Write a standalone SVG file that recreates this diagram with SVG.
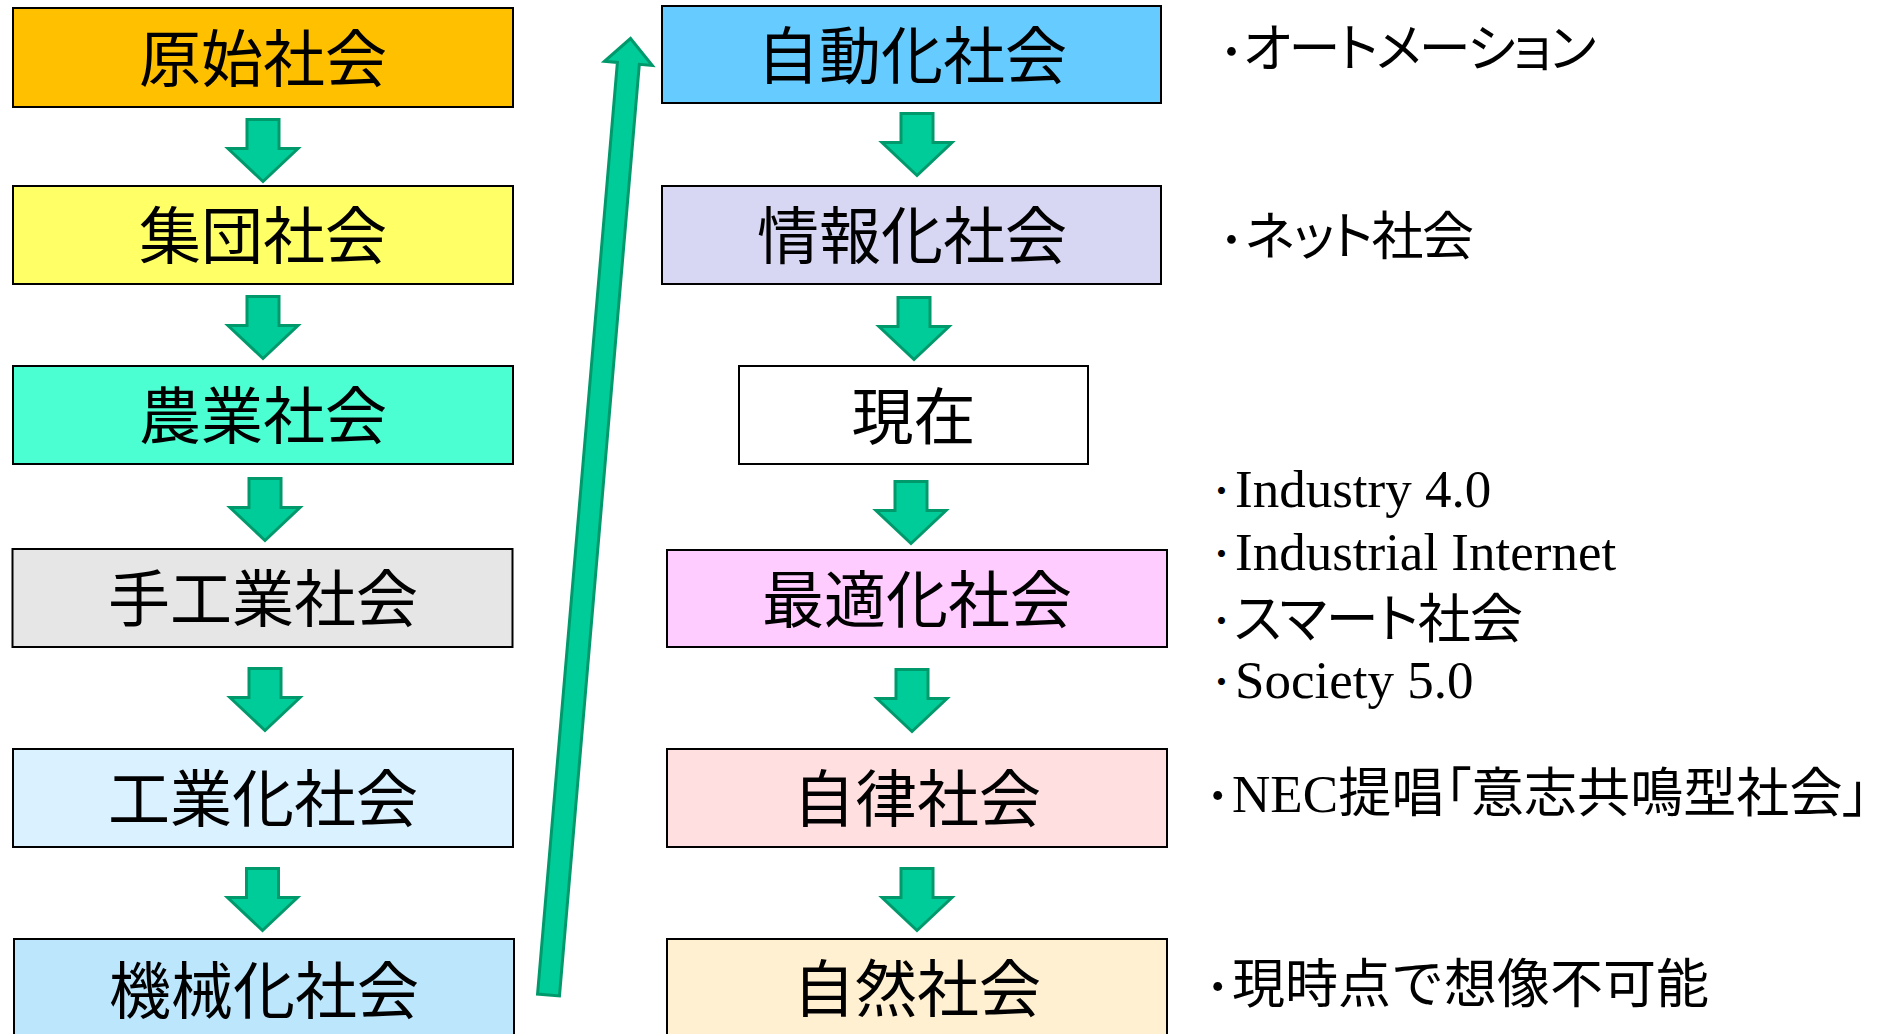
<svg xmlns="http://www.w3.org/2000/svg" width="1882" height="1034" viewBox="0 0 1882 1034">
<defs>
<path id="dn" d="M-16,0 H16 V29 H35 L0,62 L-35,29 H-16 Z"/>
<style>
.box rect{stroke:#000;stroke-width:2}
.box text{font-family:"Noto Sans CJK JP",sans-serif;font-size:62px;text-anchor:middle;fill:#000}
.arr{fill:#00CC99;stroke:#00996B;stroke-width:3;stroke-linejoin:miter}
.note{font-family:"Liberation Serif","Noto Sans CJK JP",serif;font-size:53px;fill:#000}
.sm{font-size:52px}
.p{font-feature-settings:"palt"}
.dot{font-family:"Noto Sans CJK JP",sans-serif}
.ds{font-size:42px}
</style>
</defs>
<rect width="1882" height="1034" fill="#fff"/>

<g id="n-genshi" class="box"><rect x="13" y="8" width="500" height="99" fill="#FFC000"/><text x="263" y="81.5">原始社会</text></g>
<g id="n-shudan" class="box"><rect x="13" y="186" width="500" height="98" fill="#FFFF66"/><text x="263" y="259">集団社会</text></g>
<g id="n-nogyo" class="box"><rect x="13" y="366" width="500" height="98" fill="#4BFFD2"/><text x="263" y="439">農業社会</text></g>
<g id="n-shukogyo" class="box"><rect x="12.5" y="549" width="500" height="98" fill="#E6E6E6"/><text x="263" y="622">手工業社会</text></g>
<g id="n-kogyoka" class="box"><rect x="13" y="749" width="500" height="98" fill="#DAF1FF"/><text x="263" y="822">工業化社会</text></g>
<g id="n-kikaika" class="box"><rect x="14" y="939" width="500" height="100" fill="#BBE6FC"/><text x="264" y="1014">機械化社会</text></g>

<g id="n-jidoka" class="box"><rect x="662" y="6" width="499" height="97" fill="#66CCFF"/><text x="912" y="79">自動化社会</text></g>
<g id="n-johoka" class="box"><rect x="662" y="186" width="499" height="98" fill="#D7D7F4"/><text x="912" y="259">情報化社会</text></g>
<g id="n-genzai" class="box"><rect x="739" y="366" width="349" height="98" fill="#FFFFFF"/><text x="913.5" y="440">現在</text></g>
<g id="n-saitekika" class="box"><rect x="667" y="550" width="500" height="97" fill="#FFCCFF"/><text x="917" y="622.5">最適化社会</text></g>
<g id="n-jiritsu" class="box"><rect x="667" y="749" width="500" height="98" fill="#FFDFE0"/><text x="917" y="822">自律社会</text></g>
<g id="n-shizen" class="box"><rect x="667" y="939" width="500" height="100" fill="#FFF0D2"/><text x="917" y="1012">自然社会</text></g>

<g id="connectors">
<use href="#dn" class="arr" transform="translate(263,119.5)"/>
<use href="#dn" class="arr" transform="translate(263,296.5)"/>
<use href="#dn" class="arr" transform="translate(265,478.5)"/>
<use href="#dn" class="arr" transform="translate(265,668.5)"/>
<use href="#dn" class="arr" transform="translate(262.5,868.5)"/>
<use href="#dn" class="arr" transform="translate(917,113.5)"/>
<use href="#dn" class="arr" transform="translate(914,297.5)"/>
<use href="#dn" class="arr" transform="translate(911,481.5)"/>
<use href="#dn" class="arr" transform="translate(912,669.5)"/>
<use href="#dn" class="arr" transform="translate(917,868.5)"/>
<path class="arr" transform="translate(548.5,995) rotate(4.9)" d="M-11,0 V-935 H-24 L0,-960 L24,-935 H11 V0 Z"/>
</g>

<g id="notes">
<text class="note sm" y="67"><tspan class="dot" x="1218.5" y="71">･</tspan><tspan class="p" x="1243" y="67" textLength="353">オートメーション</tspan></text>
<text class="note sm" y="255"><tspan class="dot" x="1218.5" y="259">･</tspan><tspan class="p" x="1245" y="255" textLength="229">ネット社会</tspan></text>
<text class="note" y="507"><tspan class="dot ds" x="1211" y="506">･</tspan><tspan x="1235" y="507">Industry 4.0</tspan></text>
<text class="note" y="570"><tspan class="dot ds" x="1211" y="569">･</tspan><tspan x="1235" y="570">Industrial Internet</tspan></text>
<text class="note" y="638"><tspan class="dot ds" x="1211" y="636">･</tspan><tspan class="p" x="1234" y="638" textLength="289">スマート社会</tspan></text>
<text class="note" y="698"><tspan class="dot ds" x="1211" y="697">･</tspan><tspan x="1235" y="698">Society 5.0</tspan></text>
<text class="note" y="812"><tspan class="dot" x="1204.5" y="816">･</tspan><tspan class="p" x="1232" y="812" textLength="637">NEC提唱「意志共鳴型社会」</tspan></text>
<text class="note" y="1002.5"><tspan class="dot" x="1204.5" y="1006.5">･</tspan><tspan x="1232" y="1002.5">現時点で想像不可能</tspan></text>
</g>
</svg>
